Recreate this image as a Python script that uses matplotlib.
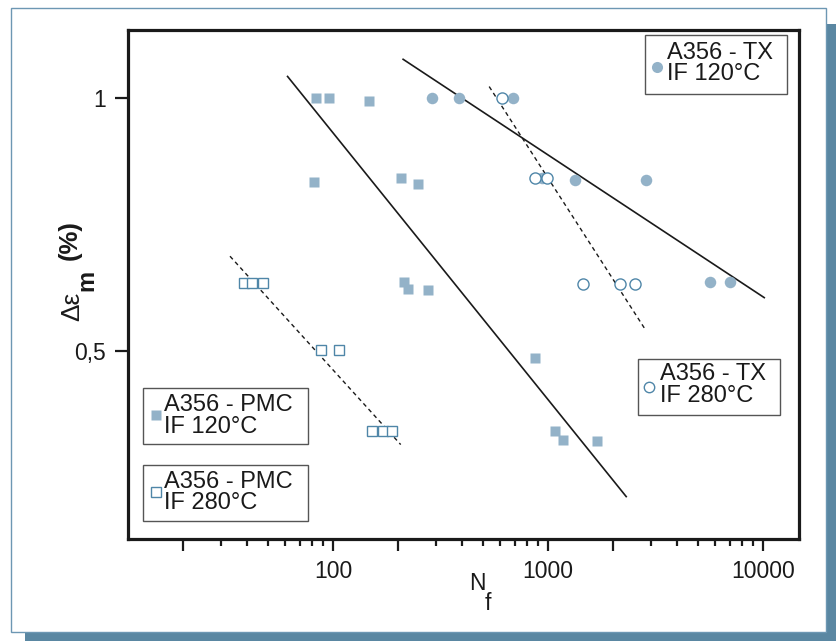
import matplotlib
matplotlib.use("Agg")
import matplotlib.pyplot as plt
from matplotlib.lines import Line2D
from matplotlib.patches import Rectangle
from matplotlib.ticker import FixedLocator, NullFormatter, FixedFormatter

plt.rcParams['font.family'] = ['Liberation Sans', 'DejaVu Sans']

# ---------------- data ----------------
pmc120_n = [83, 96, 147, 82, 207, 249, 214, 224, 278, 875, 1075, 1171, 1687]
pmc120_e = [1.0, 1.0, 0.995, 0.833, 0.841, 0.831, 0.636, 0.622, 0.621, 0.486, 0.341, 0.324, 0.322]

tx120_n = [288, 387, 685, 938, 1343, 2856, 5666, 6998]
tx120_e = [1.0, 1.0, 1.0, 0.841, 0.838, 0.838, 0.636, 0.636]

tx280_n = [611, 875, 986, 1462, 2168, 2546]
tx280_e = [1.0, 0.841, 0.841, 0.631, 0.631, 0.631]

pmc280_n = [38.7, 42.2, 47.1, 87.7, 106.5, 151.7, 170.2, 188.4]
pmc280_e = [0.633, 0.633, 0.633, 0.501, 0.502, 0.341, 0.341, 0.341]

# fitted trend lines (end points)
fit_pmc120_n = [61.5, 2312]
fit_pmc120_e = [1.043, 0.211]
fit_tx120_n = [212, 10140]
fit_tx120_e = [1.077, 0.605]
fit_tx280_n = [533, 2825]
fit_tx280_e = [1.023, 0.543]
fit_pmc280_n = [33.2, 206.6]
fit_pmc280_e = [0.687, 0.314]

x_major = [20, 100, 200, 1000, 2000, 10000]
x_major_labels = ['', '100', '', '1000', '', '10000']
x_minor = [30, 40, 50, 60, 70, 80, 90, 300, 400, 500, 600, 700, 800, 900,
           3000, 4000, 5000, 6000, 7000, 8000, 9000]
y_ticks = [0.5, 1.0]
y_tick_labels = ['0,5', '1']

labels = ['A356 - TX\nIF 120°C', 'A356 - TX\nIF 280°C',
          'A356 - PMC\nIF 120°C', 'A356 - PMC\nIF 280°C']

# ---------------- style ----------------
W, H = 837, 641
FILL = '#93b2c8'
EDGE = '#4f86a8'
SHADOW = '#5a87a2'
INK = '#1a1a1a'

fig = plt.figure(figsize=(W / 100, H / 100), dpi=100)
fig.patch.set_facecolor('white')


def fx(px):
    return px / W


def fy(py):
    return 1 - py / H


# outer panel with shadow
fig.patches.append(Rectangle((fx(25), 0), (W - 25) / W, fy(24),
                             transform=fig.transFigure, facecolor=SHADOW,
                             edgecolor='none', zorder=-3))
fig.patches.append(Rectangle((fx(11), fy(632)), (826 - 11) / W, (632 - 8) / H,
                             transform=fig.transFigure, facecolor='white',
                             edgecolor='#6d97b3', linewidth=1.0, zorder=-2))

ax = fig.add_axes([fx(127.7), fy(539), (799.3 - 127.7) / W, (539 - 30) / H])
ax.set_facecolor('white')
ax.set_xscale('log')
ax.set_xlim(11.1, 14760)
ax.set_ylim(0.127, 1.135)

for s in ax.spines.values():
    s.set_linewidth(2.3)
    s.set_color(INK)

# trend lines
ax.plot(fit_pmc120_n, fit_pmc120_e, color=INK, lw=1.2, zorder=2)
ax.plot(fit_tx120_n, fit_tx120_e, color=INK, lw=1.2, zorder=2)
ax.plot(fit_tx280_n, fit_tx280_e, color=INK, lw=1.0, ls=(0, (3, 2.5)), zorder=2)
ax.plot(fit_pmc280_n, fit_pmc280_e, color=INK, lw=1.0, ls=(0, (3, 2.5)), zorder=2)

# points
ax.plot(pmc120_n, pmc120_e, ls='none', marker='s', ms=7.4, mfc=FILL, mec='none', zorder=3)
ax.plot(tx120_n, tx120_e, ls='none', marker='o', ms=8.3, mfc=FILL, mec='none', zorder=3)
ax.plot(tx280_n, tx280_e, ls='none', marker='o', ms=8.0, mfc='white', mec=EDGE, mew=1.0, zorder=4)
ax.plot(pmc280_n, pmc280_e, ls='none', marker='s', ms=7.0, mfc='white', mec=EDGE, mew=1.0, zorder=4)

# ticks
ax.xaxis.set_major_locator(FixedLocator(x_major))
ax.xaxis.set_major_formatter(FixedFormatter(x_major_labels))
ax.xaxis.set_minor_locator(FixedLocator(x_minor))
ax.xaxis.set_minor_formatter(NullFormatter())
ax.tick_params(axis='x', which='major', direction='out', length=8.5, width=1.6,
               labelsize=16.5, pad=6.5, colors=INK)
ax.tick_params(axis='x', which='minor', direction='out', length=5, width=1.6, colors=INK)
ax.set_yticks(y_ticks)
ax.set_yticklabels(y_tick_labels)
ax.yaxis.set_minor_locator(FixedLocator([]))
ax.tick_params(axis='y', which='major', direction='out', length=9.5, width=1.6,
               labelsize=16.5, pad=6, colors=INK)
ax.tick_params(top=False, right=False)

# x label: N with a lowered "f"
fig.text(fx(469), fy(572), 'N', ha='left', va='top', fontsize=16.5, color=INK)
fig.text(fx(485), fy(592), 'f', ha='left', va='top', fontsize=16.5, color=INK)

# y label: Δε, bold lowered "m", bold (%)
fig.text(fx(79), fy(306), 'Δε', rotation=90, rotation_mode='anchor',
         ha='center', va='baseline', fontsize=19, color=INK)
fig.text(fx(93), fy(280), 'm', rotation=90, rotation_mode='anchor',
         ha='center', va='baseline', fontsize=17, fontweight='bold', color=INK)
fig.text(fx(77), fy(240), '(%)', rotation=90, rotation_mode='anchor',
         ha='center', va='baseline', fontsize=18.5, fontweight='bold', color=INK)

# legend boxes (drawn as framed boxes with a marker and two text lines)
markers = [
    dict(marker='o', ms=8.0, mfc=FILL, mec='none'),
    dict(marker='o', ms=7.5, mfc='white', mec=EDGE, mew=1.0),
    dict(marker='s', ms=7.2, mfc=FILL, mec='none'),
    dict(marker='s', ms=7.0, mfc='white', mec=EDGE, mew=1.0),
]
boxes = [(645, 35, 787, 94), (638, 359, 780, 415), (143, 388, 308, 444), (143, 465, 308, 521)]
marker_pos = [(657, 66.5), (649, 386.5), (156.5, 415), (156.5, 491.5)]
text_pos = [(667, 63.5), (660, 385), (164, 416), (164, 492.5)]

for mk, lab, (x0, y0, x1, y1), (mx, my), (tx, ty) in zip(markers, labels, boxes, marker_pos, text_pos):
    fig.patches.append(Rectangle((fx(x0), fy(y1)), (x1 - x0) / W, (y1 - y0) / H,
                                 transform=fig.transFigure, facecolor='white',
                                 edgecolor='#555555', linewidth=1.0, zorder=5))
    fig.add_artist(Line2D([fx(mx)], [fy(my)], transform=fig.transFigure,
                          ls='none', zorder=6, **mk))
    fig.text(fx(tx), fy(ty), lab, ha='left', va='center', fontsize=17,
             linespacing=0.98, color=INK, zorder=6)

fig.savefig('out.png', dpi=100, facecolor='white')
